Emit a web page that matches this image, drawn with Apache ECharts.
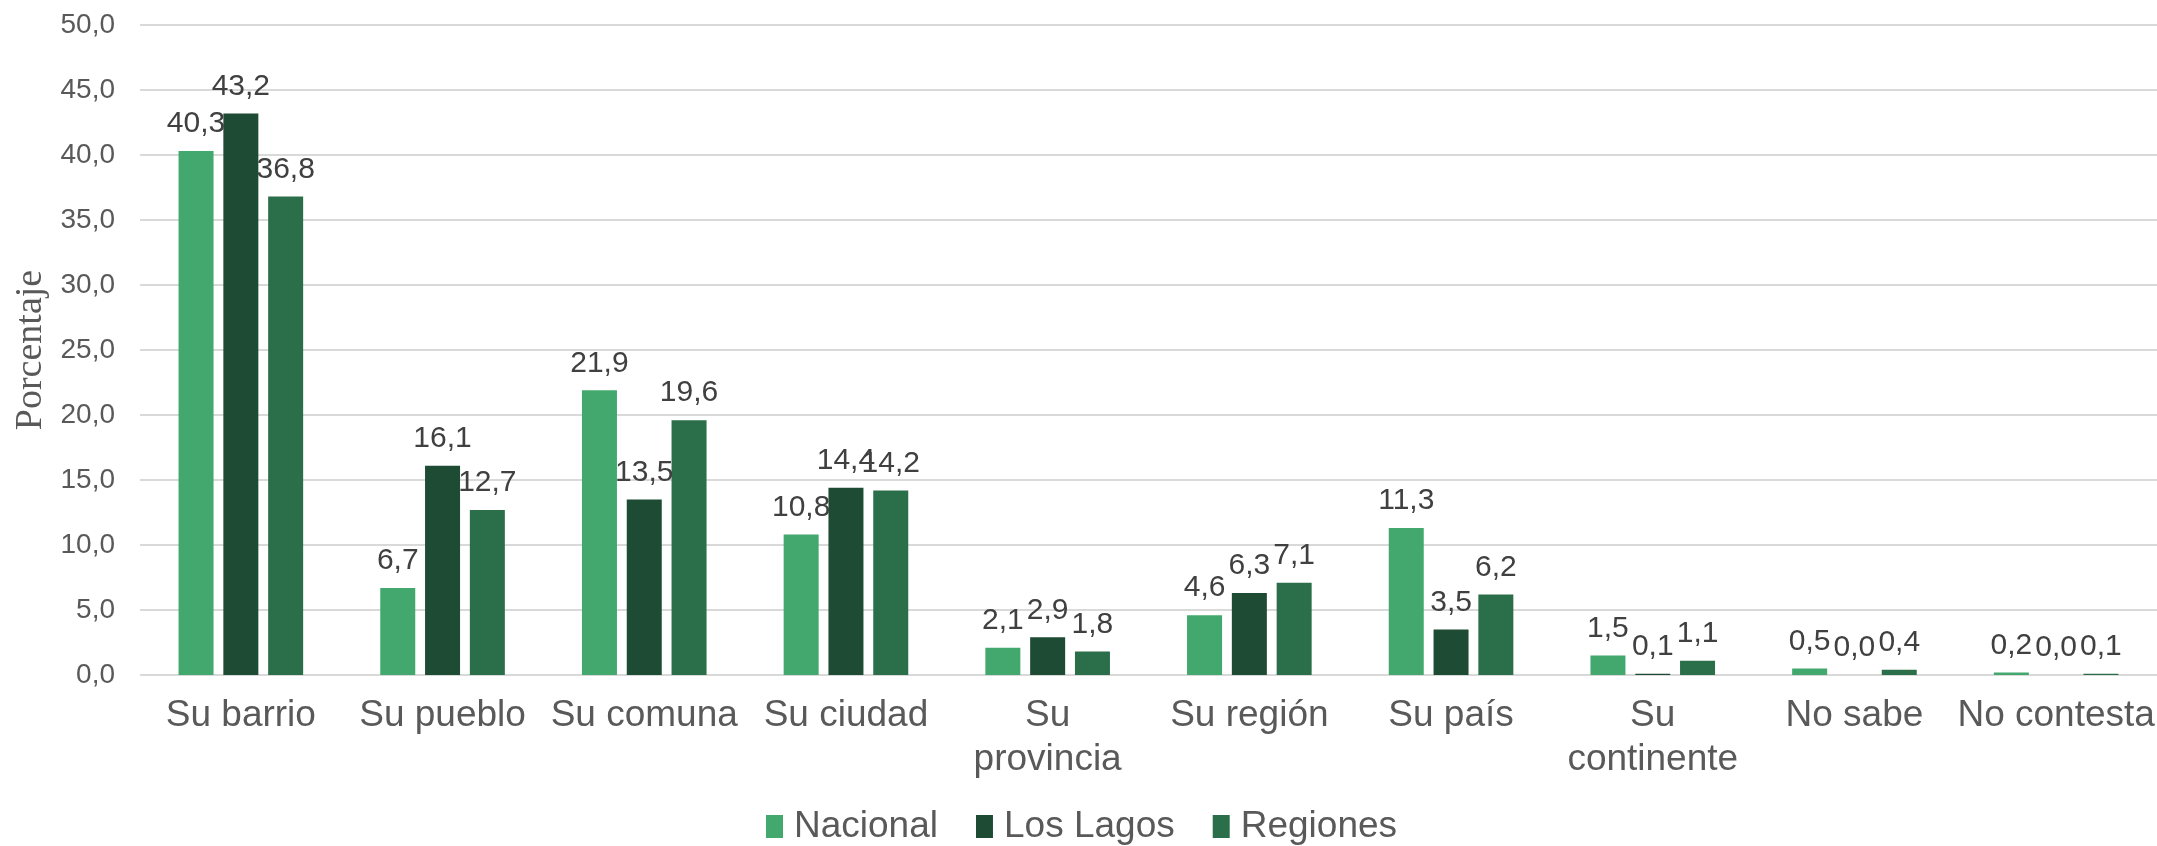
<!DOCTYPE html>
<html>
<head>
<meta charset="utf-8">
<script src="https://cdn.jsdelivr.net/npm/echarts@6/dist/echarts.min.js"></script>
<style>
  html, body { margin: 0; padding: 0; background: #fff; }
  #chart { width: 2157px; height: 846px; }
</style>
</head>
<body>
<div id="chart"></div>
<script>
const categories = ['Su barrio', 'Su pueblo', 'Su comuna', 'Su ciudad', 'Su\nprovincia', 'Su región', 'Su país', 'Su\ncontinente', 'No sabe', 'No contesta'];
const nacional = [40.3, 6.7, 21.9, 10.8, 2.1, 4.6, 11.3, 1.5, 0.5, 0.2];
const losLagos = [43.2, 16.1, 13.5, 14.4, 2.9, 6.3, 3.5, 0.1, 0.0, 0.0];
const regiones = [36.8, 12.7, 19.6, 14.2, 1.8, 7.1, 6.2, 1.1, 0.4, 0.1];

const comma = v => Number(v).toFixed(1).replace('.', ',');

const myChart = echarts.init(document.getElementById('chart'));

function barSeries(name, data, color) {
  return {
    name: name,
    type: 'bar',
    data: data,
    barWidth: 35,
    barGap: '28%',
    itemStyle: { color: color },
    label: {
      show: true,
      position: 'top',
      distance: 12,
      color: '#404040',
      fontFamily: 'Liberation Sans, Arial, sans-serif',
      fontSize: 30,
      formatter: p => comma(p.value)
    }
  };
}

const option = {
  animation: false,
  textStyle: { fontFamily: 'Liberation Sans, Arial, sans-serif' },
  grid: { left: 140, right: 0, top: 25, bottom: 171, outerBoundsMode: 'none' },
  legend: {
    data: ['Nacional', 'Los Lagos', 'Regiones'],
    left: 766,
    top: 808,
    padding: 0,
    itemWidth: 17,
    itemHeight: 23,
    itemGap: 38,
    icon: 'rect',
    textStyle: {
      color: '#595959',
      fontFamily: 'Liberation Sans, Arial, sans-serif',
      fontSize: 37,
      padding: [0, 0, 0, 6]
    }
  },
  xAxis: {
    type: 'category',
    data: categories,
    axisLine: { show: false },
    axisTick: { show: false },
    axisLabel: {
      color: '#595959',
      fontSize: 37,
      lineHeight: 44,
      margin: 19,
      interval: 0
    }
  },
  yAxis: {
    type: 'value',
    min: 0,
    max: 50,
    interval: 5,
    name: 'Porcentaje',
    nameLocation: 'middle',
    nameGap: 88,
    nameTextStyle: {
      color: '#595959',
      fontFamily: 'Liberation Serif, Times New Roman, serif',
      fontSize: 38
    },
    axisLine: { show: false },
    axisTick: { show: false },
    axisLabel: {
      color: '#595959',
      fontSize: 28,
      margin: 25,
      formatter: v => comma(v)
    },
    splitLine: { lineStyle: { color: '#d9d9d9', width: 2 } }
  },
  series: [
    barSeries('Nacional', nacional, '#42a86d'),
    barSeries('Los Lagos', losLagos, '#1e4b33'),
    barSeries('Regiones', regiones, '#2a6f49')
  ]
};
myChart.setOption(option);
</script>
</body>
</html>
